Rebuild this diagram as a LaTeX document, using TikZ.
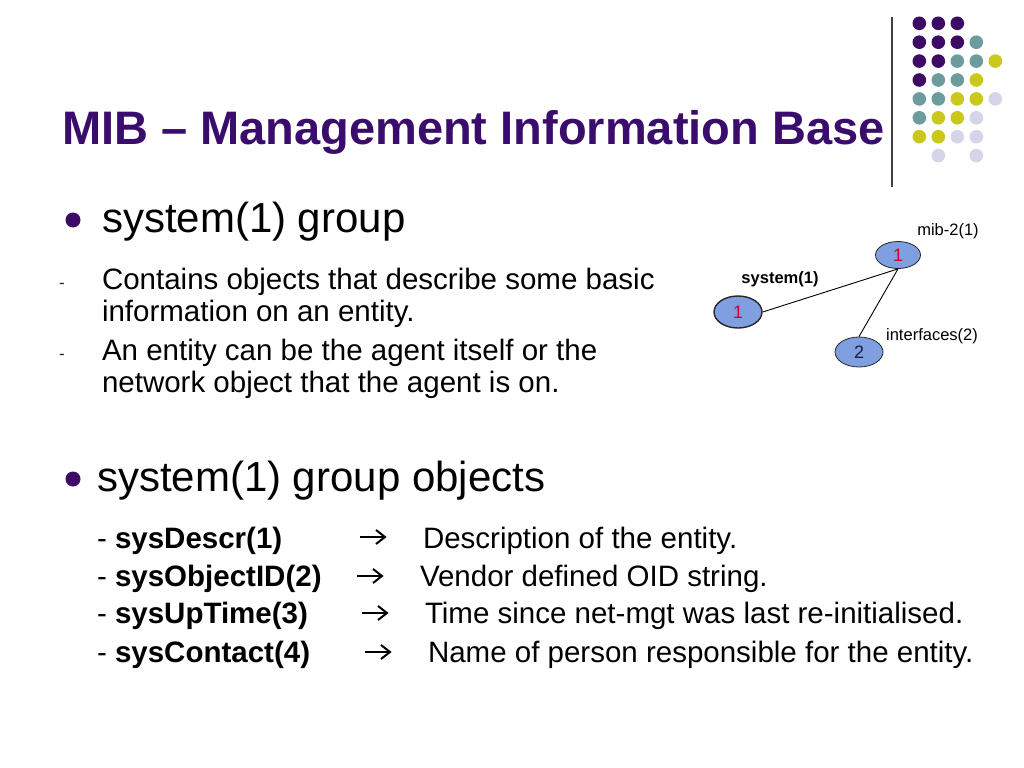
\documentclass[tikz,border=0pt]{standalone}
\usepackage{fontspec}
\setmainfont{Liberation Sans}
\usetikzlibrary{arrows.meta,shapes.geometric,calc}
\definecolor{titlepurple}{HTML}{3A0C6C}
\definecolor{dotP}{HTML}{3D0B66}
\definecolor{dotT}{HTML}{6C9C9E}
\definecolor{dotY}{HTML}{C9C81B}
\definecolor{dotL}{HTML}{D5D5EA}
\definecolor{nodefill}{HTML}{7F9FE0}
\definecolor{numred}{HTML}{CC0033}
\definecolor{numblue}{HTML}{1A1A4A}
\newcommand{\myfs}[1]{\fontsize{#1bp}{#1bp}\selectfont}
\begin{document}
\begin{tikzpicture}[x=1bp,y=-1bp,
  txt/.style={anchor=base west,inner sep=0pt,outer sep=0pt},
  titletxt/.style={txt,font=\myfs{47}\bfseries,text=titlepurple},
  lvlone/.style={txt,font=\myfs{42}},
  lvltwo/.style={txt,font=\myfs{29.5}},
  dashmark/.style={txt,font=\myfs{17},text=dotP},
  bulletdot/.style={circle,fill=dotP,minimum size=15bp,inner sep=0pt},
  tnode/.style={ellipse,draw=black!85,fill=nodefill,inner sep=0pt,line width=0.8bp},
  smalltxt/.style={font=\myfs{16.5},inner sep=0pt},
  arr/.style={line width=2bp,line cap=butt,line join=miter},
  link/.style={line width=0.9bp,draw=black}]
\useasboundingbox (0,0) rectangle (1024,768);
\fill[white] (0,0) rectangle (1024,768);

% decorative dot grid
\draw[line width=1.3bp,draw=black!75] (892,17) -- (892,187);
\foreach \c/\r/\col in {0/0/dotP,1/0/dotP,2/0/dotP,
  0/1/dotP,1/1/dotP,2/1/dotP,3/1/dotT,
  0/2/dotP,1/2/dotP,2/2/dotT,3/2/dotT,4/2/dotY,
  0/3/dotP,1/3/dotT,2/3/dotT,3/3/dotY,
  0/4/dotT,1/4/dotT,2/4/dotY,3/4/dotY,4/4/dotL,
  0/5/dotT,1/5/dotY,2/5/dotY,3/5/dotL,
  0/6/dotY,1/6/dotY,2/6/dotL,3/6/dotL,
  1/7/dotL,3/7/dotL}
  \fill[\col] (919.3+19*\c,23.3+18.9*\r) circle (6.8);

% title
\node[titletxt] (title) at (62,144) {MIB – Management Information Base};

% first bullet
\node[bulletdot] (b1) at (73,220) {};
\node[lvlone] (b1t) at (102,232) {system(1) group};
\node[dashmark] (d1) at (59,288) {-};
\node[lvltwo] (s1a) at (102,289) {Contains objects that describe some basic};
\node[lvltwo] (s1b) at (102,321) {information on an entity.};
\node[dashmark] (d2) at (59,359) {-};
\node[lvltwo] (s2a) at (102,360) {An entity can be the agent itself or the};
\node[lvltwo] (s2b) at (102,392) {network object that the agent is on.};

% second bullet
\node[bulletdot] (b2) at (73,479) {};
\node[lvlone] (b2t) at (97,491) {system(1) group objects};

% rows
\node[lvltwo] (r1a) at (97,548) {- \textbf{sysDescr(1)}};
\coordinate (a1s) at (360,537); \coordinate (a1e) at (385,537);
\draw[arr] (a1s) -- (a1e);
\draw[arr] ($(a1e)+(-9,-7)$) -- (a1e) -- ($(a1e)+(-9,7)$);
\node[lvltwo] (r1b) at (423,548) {Description of the entity.};

\node[lvltwo] (r2a) at (97,586) {- \textbf{sysObjectID(2)}};
\coordinate (a2s) at (357,576); \coordinate (a2e) at (382,576);
\draw[arr] (a2s) -- (a2e);
\draw[arr] ($(a2e)+(-9,-7)$) -- (a2e) -- ($(a2e)+(-9,7)$);
\node[lvltwo] (r2b) at (420,586) {Vendor defined OID string.};

\node[lvltwo] (r3a) at (97,623) {- \textbf{sysUpTime(3)}};
\coordinate (a3s) at (362,613); \coordinate (a3e) at (387,613);
\draw[arr] (a3s) -- (a3e);
\draw[arr] ($(a3e)+(-9,-7)$) -- (a3e) -- ($(a3e)+(-9,7)$);
\node[lvltwo] (r3b) at (425,623) {Time since net-mgt was last re-initialised.};

\node[lvltwo] (r4a) at (97,662) {- \textbf{sysContact(4)}};
\coordinate (a4s) at (365,652); \coordinate (a4e) at (390,652);
\draw[arr] (a4s) -- (a4e);
\draw[arr] ($(a4e)+(-9,-7)$) -- (a4e) -- ($(a4e)+(-9,7)$);
\node[lvltwo] (r4b) at (428,662) {Name of person responsible for the entity.};

% tree diagram
\node[tnode,minimum width=45bp,minimum height=27bp,font=\myfs{18},text=numred] (mib) at (898,255) {1};
\node[tnode,minimum width=48bp,minimum height=32bp,line width=1.4bp,font=\myfs{18},text=numred] (sys) at (738,312) {1};
\node[tnode,minimum width=48bp,minimum height=30bp,font=\myfs{18},text=numblue] (ifc) at (859,352) {2};
\draw[link] (mib.south) -- (sys.east);
\draw[link] (mib.south) -- (ifc.north);
\node[smalltxt] (mibl) at (948,231) {mib-2(1)};
\node[smalltxt,font=\myfs{16.5}\bfseries] (sysl) at (780,279) {system(1)};
\node[smalltxt] (ifcl) at (932,336) {interfaces(2)};
\end{tikzpicture}
\end{document}
